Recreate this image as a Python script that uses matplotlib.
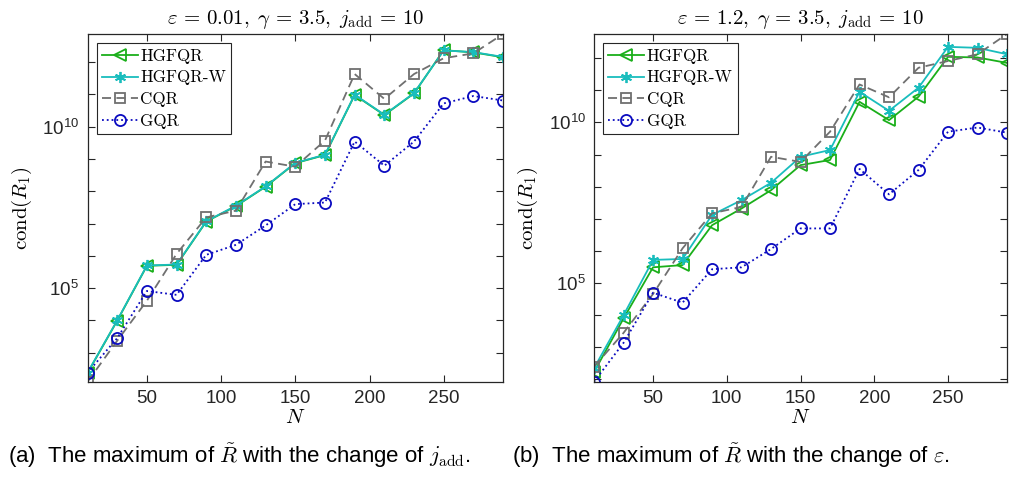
import numpy as np
import matplotlib
matplotlib.use('Agg')
import matplotlib.pyplot as plt
from matplotlib.ticker import FixedLocator, FuncFormatter, NullLocator

plt.rcParams['mathtext.fontset'] = 'cm'
plt.rcParams['font.family'] = ['Liberation Sans', 'DejaVu Sans']

N = [10, 30, 50, 70, 90, 110, 130, 150, 170, 190, 210, 230, 250, 270, 290]

# log10 of cond(R_1)
# (a) eps = 0.01
hgfqr_a = [2.37, 3.99, 5.69, 5.72, 7.06, 7.54, 8.14, 8.87, 9.12, 10.98, 10.36, 11.03, 12.37, 12.30, 12.15]
hgfqrw_a = [2.38, 4.00, 5.70, 5.73, 7.07, 7.55, 8.15, 8.88, 9.13, 10.99, 10.37, 11.04, 12.36, 12.31, 12.16]
cqr_a = [2.10, 3.37, 4.61, 6.06, 7.19, 7.40, 8.92, 8.76, 9.57, 11.63, 10.86, 11.63, 12.12, 12.27, 12.87]
gqr_a = [2.38, 3.45, 4.91, 4.79, 6.03, 6.34, 6.94, 7.60, 7.65, 9.54, 8.79, 9.54, 10.72, 10.95, 10.81]

# (b) eps = 1.2
hgfqr_b = [2.23, 3.90, 5.49, 5.56, 6.80, 7.32, 7.89, 8.67, 8.83, 10.64, 10.07, 10.80, 12.04, 12.02, 11.85]
hgfqrw_b = [2.35, 4.00, 5.72, 5.75, 7.12, 7.58, 8.12, 8.93, 9.14, 10.95, 10.36, 11.08, 12.35, 12.32, 12.12]
cqr_b = [2.40, 3.45, 4.66, 6.08, 7.17, 7.37, 8.93, 8.77, 9.71, 11.18, 10.78, 11.70, 11.91, 12.12, 12.75]
gqr_b = [1.93, 3.14, 4.70, 4.39, 5.43, 5.49, 6.06, 6.70, 6.70, 8.55, 7.76, 8.52, 9.71, 9.84, 9.68]

titles = [r'$\varepsilon\,=\,0.01,\;\gamma\,=\,3.5,\;j_{\mathrm{add}}\,=\,10$',
          r'$\varepsilon\,=\,1.2,\;\gamma\,=\,3.5,\;j_{\mathrm{add}}\,=\,10$']
captions = [r'(a)  The maximum of $\tilde{R}$ with the change of $j_{\mathrm{add}}$.',
            r'(b)  The maximum of $\tilde{R}$ with the change of $\varepsilon$.']

fig = plt.figure(figsize=(10.12, 4.79), dpi=100)
ax1 = fig.add_axes([0.0865, 0.2031, 0.4106, 0.7259])
ax2 = fig.add_axes([0.5870, 0.2031, 0.4081, 0.7259])

green = '#1aaf1a'
cyan = '#19bdbd'
gray = '#707070'
blue = '#0a0ac0'

sets = [(hgfqr_a, hgfqrw_a, cqr_a, gqr_a), (hgfqr_b, hgfqrw_b, cqr_b, gqr_b)]

for i, ax in enumerate([ax1, ax2]):
    h, hw, c, g = [10.0 ** np.array(s) for s in sets[i]]
    ax.plot(N, h, '-<', color=green, lw=1.3, ms=9, mfc='none', mew=1.3, label='HGFQR')
    ax.plot(N, hw, '-', marker=(6, 2, 0), color=cyan, lw=1.3, ms=8, mew=1.3, label='HGFQR-W')
    ax.plot(N, c, '--s', color=gray, lw=1.3, ms=7.5, mfc='none', mew=1.3, dashes=(5, 3), label='CQR')
    ax.plot(N, g, ':o', color=blue, lw=1.3, ms=8, mfc='none', mew=1.3, label='GQR')
    ax.set_yscale('log')
    ax.set_xlim(10, 290)
    allv = np.concatenate([h, hw, c, g])
    ax.set_ylim(allv.min(), allv.max())
    ax.set_xticks([50, 100, 150, 200, 250])
    ax.yaxis.set_major_locator(FixedLocator([10.0 ** k for k in range(0, 15)]))
    ax.yaxis.set_minor_locator(NullLocator())
    ax.yaxis.set_major_formatter(FuncFormatter(
        lambda v, p: r'$\mathregular{10^{%d}}$' % round(np.log10(v)) if round(np.log10(v)) in (5, 10) else ''))
    ax.tick_params(direction='in', top=True, right=True, labelsize=13.5, length=5,
                   width=0.8, colors='#262626', pad=6)
    for s in ax.spines.values():
        s.set_color('#262626')
        s.set_linewidth(0.9)
    ax.set_title(titles[i], fontsize=15, pad=7)
    ax.set_xlabel(r'$N$', fontsize=15, labelpad=1)
    ax.set_ylabel(r'$\mathrm{cond}(R_1)$', fontsize=15, labelpad=6)
    leg = ax.legend(loc='upper left', prop={'family': 'cmr10', 'size': 12.2},
                    fancybox=False, framealpha=1, edgecolor='#262626',
                    handlelength=2.1, handletextpad=0.15, borderpad=0.3,
                    labelspacing=0.38, borderaxespad=0.55)
    leg.get_frame().set_linewidth(0.8)

fig.text(0.008, 0.033, captions[0], fontsize=16)
fig.text(0.506, 0.033, captions[1], fontsize=16)

fig.savefig('out.png', dpi=100)
